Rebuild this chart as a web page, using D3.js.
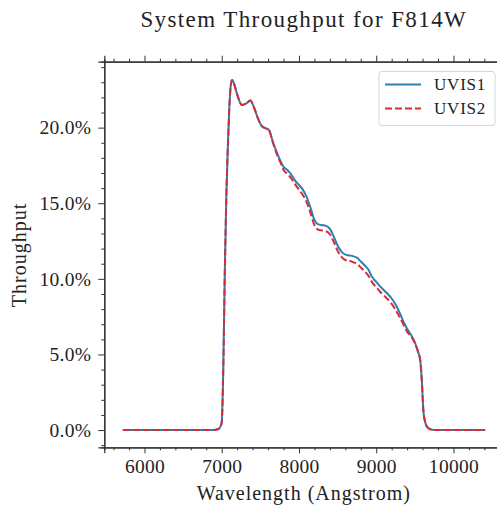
<!DOCTYPE html>
<html><head><meta charset="utf-8">
<script src="https://cdn.jsdelivr.net/npm/d3@7"></script>
<style>body{margin:0;background:#fff}svg{display:block}text{font-family:"Liberation Serif","DejaVu Serif",serif;fill:#222}</style>
</head><body><div id="chart"></div>
<script>
const wavelength = [5720,6900,6950,6980,7000,7020,7040,7060,7080,7100,7120,7135,7160,7200,7260,7320,7370,7420,7470,7520,7570,7610,7660,7710,7760,7800,7850,7900,7950,8000,8050,8100,8150,8200,8250,8300,8350,8400,8450,8500,8550,8600,8650,8700,8750,8800,8850,8900,8950,9000,9050,9100,9150,9200,9250,9300,9350,9400,9450,9500,9540,9570,9590,9610,9630,9660,9700,9750,10410];
const uvis1 = [0,0,0.05,0.2,0.5,4,10.5,15.5,18.8,21.5,22.9,23.15,22.9,22.2,21.5,21.6,21.8,21.3,20.6,20.1,19.95,19.85,19.1,18.4,17.8,17.4,17.2,16.9,16.5,16.2,15.9,15.4,14.7,13.9,13.6,13.55,13.5,13.3,12.8,12.2,11.8,11.6,11.55,11.5,11.4,11.15,10.9,10.6,10.1,9.8,9.5,9.25,9.0,8.7,8.3,7.8,7.2,6.7,6.3,5.8,5.2,4.6,3.3,1.3,0.6,0.2,0.05,0,0];
const uvis2 = [0,0,0.05,0.2,0.5,4,10.5,15.5,18.8,21.5,22.9,23.15,22.9,22.2,21.5,21.6,21.8,21.3,20.6,20.1,19.95,19.85,19.05,18.3,17.7,17.2,16.95,16.65,16.25,15.9,15.55,15.05,14.35,13.55,13.25,13.2,13.15,12.95,12.45,11.85,11.45,11.25,11.2,11.1,11.0,10.75,10.5,10.2,9.75,9.45,9.15,8.9,8.65,8.35,7.95,7.5,7.0,6.5,6.2,5.75,5.2,4.6,3.3,1.3,0.6,0.2,0.05,0,0];
const seriesNames = ["UVIS1","UVIS2"];
const xTicks = [6000,7000,8000,9000,10000];
const yTicks = [0,5,10,15,20];
const title = "System Throughput for F814W";
const xLabel = "Wavelength (Angstrom)";
const yLabel = "Throughput";

const W = 497, H = 510;
const svg = d3.select("#chart").append("svg").attr("width", W).attr("height", H);
const mLeft = 104.3, mRight = 503.3, mTop = 61.7, mBottom = 447.3;
const x = d3.scaleLinear().domain([5480, 10645]).range([mLeft, mRight]);
const y = d3.scaleLinear().domain([-1.14, 24.36]).range([mBottom, mTop]);

const minorX = d3.range(5600, 10700, 200);
const minorY = d3.range(-1, 25, 1);

const gB = svg.append("g").attr("transform", `translate(0,${mBottom})`)
  .call(d3.axisBottom(x).tickValues(xTicks).tickFormat(d3.format("d")).tickSize(6).tickPadding(6));
const gBm = svg.append("g").attr("transform", `translate(0,${mBottom})`)
  .call(d3.axisBottom(x).tickValues(minorX.filter(v => !xTicks.includes(v))).tickFormat("").tickSize(3));
const gT = svg.append("g").attr("transform", `translate(0,${mTop})`)
  .call(d3.axisTop(x).tickValues(xTicks).tickFormat("").tickSize(6));
const gTm = svg.append("g").attr("transform", `translate(0,${mTop})`)
  .call(d3.axisTop(x).tickValues(minorX.filter(v => !xTicks.includes(v))).tickFormat("").tickSize(3));
const gL = svg.append("g").attr("transform", `translate(${mLeft},0)`)
  .call(d3.axisLeft(y).tickValues(yTicks).tickFormat(d => d3.format(".1f")(d) + "%").tickSize(6).tickPadding(7));
const gLm = svg.append("g").attr("transform", `translate(${mLeft},0)`)
  .call(d3.axisLeft(y).tickValues(minorY.filter(v => !yTicks.includes(v))).tickFormat("").tickSize(3));
const gR = svg.append("g").attr("transform", `translate(${mRight},0)`)
  .call(d3.axisRight(y).tickValues(yTicks).tickFormat("").tickSize(6));
[gB,gBm,gT,gTm,gL,gLm,gR].forEach(g => {
  g.select(".domain").attr("stroke", "#333").attr("stroke-width", 1.2);
  g.selectAll(".tick line").attr("stroke", "#333").attr("stroke-width", 1);
  g.selectAll(".tick text").attr("font-size", 19.5).attr("fill", "#222").attr("letter-spacing", 0.3)
    .attr("font-family", '"Liberation Serif","DejaVu Serif",serif');
});

const rows = wavelength.map((w, i) => ({w, a: uvis1[i], b: uvis2[i]}));
svg.append("clipPath").attr("id", "clip").append("rect")
  .attr("x", mLeft).attr("y", mTop).attr("width", mRight - mLeft).attr("height", mBottom - mTop);
const lineA = d3.line().x(d => x(d.w)).y(d => y(d.a)).curve(d3.curveMonotoneX);
const lineB = d3.line().x(d => x(d.w)).y(d => y(d.b)).curve(d3.curveMonotoneX);
const colors = ["#2f7fb3", "#d62c35"];
svg.append("path").datum(rows).attr("d", lineA).attr("fill", "none")
  .attr("stroke", colors[0]).attr("stroke-width", 2).attr("clip-path", "url(#clip)");
svg.append("path").datum(rows).attr("d", lineB).attr("fill", "none")
  .attr("stroke", colors[1]).attr("stroke-width", 2).attr("stroke-dasharray", "7,3").attr("clip-path", "url(#clip)");

const lg = svg.append("g");
lg.append("rect").attr("x", 379).attr("y", 71.5).attr("width", 116).attr("height", 54)
  .attr("rx", 3).attr("fill", "#fff").attr("fill-opacity", 0.85).attr("stroke", "#d5d5d5");
seriesNames.forEach((n, i) => {
  const yy = 84.5 + i * 24;
  lg.append("line").attr("x1", 385).attr("x2", 421).attr("y1", yy).attr("y2", yy)
    .attr("stroke", colors[i]).attr("stroke-width", 2).attr("stroke-dasharray", i ? "7,3" : null);
  lg.append("text").attr("x", 434).attr("y", yy + 5.5).attr("font-size", 17).attr("letter-spacing", 0.8).text(n);
});

svg.append("text").attr("x", (mLeft + mRight) / 2).attr("y", 27.3).attr("text-anchor", "middle")
  .attr("font-size", 23).attr("letter-spacing", 1.4).text(title);
svg.append("text").attr("x", (mLeft + mRight) / 2).attr("y", 500).attr("text-anchor", "middle")
  .attr("font-size", 20).attr("letter-spacing", 1).text(xLabel);
svg.append("text").attr("transform", `translate(26,255) rotate(-90)`).attr("text-anchor", "middle")
  .attr("font-size", 20).attr("letter-spacing", 1).text(yLabel);
</script></body></html>
